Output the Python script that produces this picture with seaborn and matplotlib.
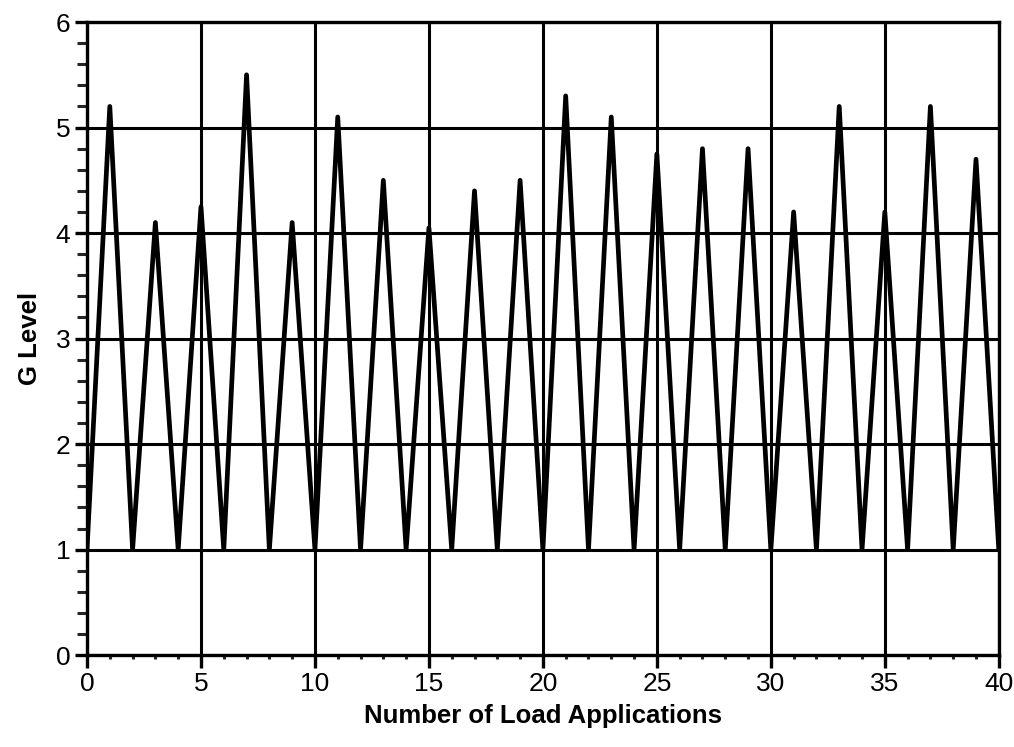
import numpy as np
import pandas as pd
import matplotlib
matplotlib.use("Agg")
import matplotlib.pyplot as plt
from matplotlib.ticker import MultipleLocator
import seaborn as sns

# Load application count and the G level reached at each step
applications = list(range(0, 41))
g_level = [1.0, 5.2, 1.0, 4.1, 1.0, 4.25, 1.0, 5.5, 1.0, 4.1,
           1.0, 5.1, 1.0, 4.5, 1.0, 4.05, 1.0, 4.4, 1.0, 4.5,
           1.0, 5.3, 1.0, 5.1, 1.0, 4.75, 1.0, 4.8, 1.0, 4.8,
           1.0, 4.2, 1.0, 5.2, 1.0, 4.2, 1.0, 5.2, 1.0, 4.7,
           1.0]

x_ticks = [0, 5, 10, 15, 20, 25, 30, 35, 40]
y_ticks = [0, 1, 2, 3, 4, 5, 6]

df = pd.DataFrame({"Number of Load Applications": applications, "G Level": g_level})

sns.set_style("ticks")
plt.rcParams["font.family"] = ["Liberation Sans", "DejaVu Sans"]

fig = plt.figure(figsize=(10.14, 7.47), dpi=100)
ax = fig.add_axes([0.0858, 0.123, 0.8992, 0.8475])

ax.set_xlim(0, 40)
ax.set_ylim(0, 6)
ax.set_xticks(x_ticks)
ax.set_yticks(y_ticks)
ax.xaxis.set_minor_locator(MultipleLocator(1))
ax.yaxis.set_minor_locator(MultipleLocator(0.2))

ax.grid(True, which="major", color="black", linewidth=2.2)
ax.set_axisbelow(True)

sns.lineplot(data=df, x="Number of Load Applications", y="G Level",
             color="black", linewidth=3.4, ax=ax, zorder=3)

for side in ["left", "right", "top", "bottom"]:
    ax.spines[side].set_visible(True)
    ax.spines[side].set_linewidth(2.4)
    ax.spines[side].set_color("black")

ax.tick_params(axis="both", which="major", direction="out", length=9, width=2.4,
               labelsize=19, colors="black", pad=3)
ax.tick_params(axis="y", which="minor", direction="out", length=7, width=2.2)
ax.tick_params(axis="x", which="minor", direction="out", length=3, width=2.2)

ax.set_xlabel("Number of Load Applications", fontsize=18.5, fontweight="bold",
              color="black", labelpad=6)
ax.set_ylabel("G Level", fontsize=18.5, fontweight="bold",
              color="black", labelpad=10)

fig.savefig("out.png", dpi=100)
